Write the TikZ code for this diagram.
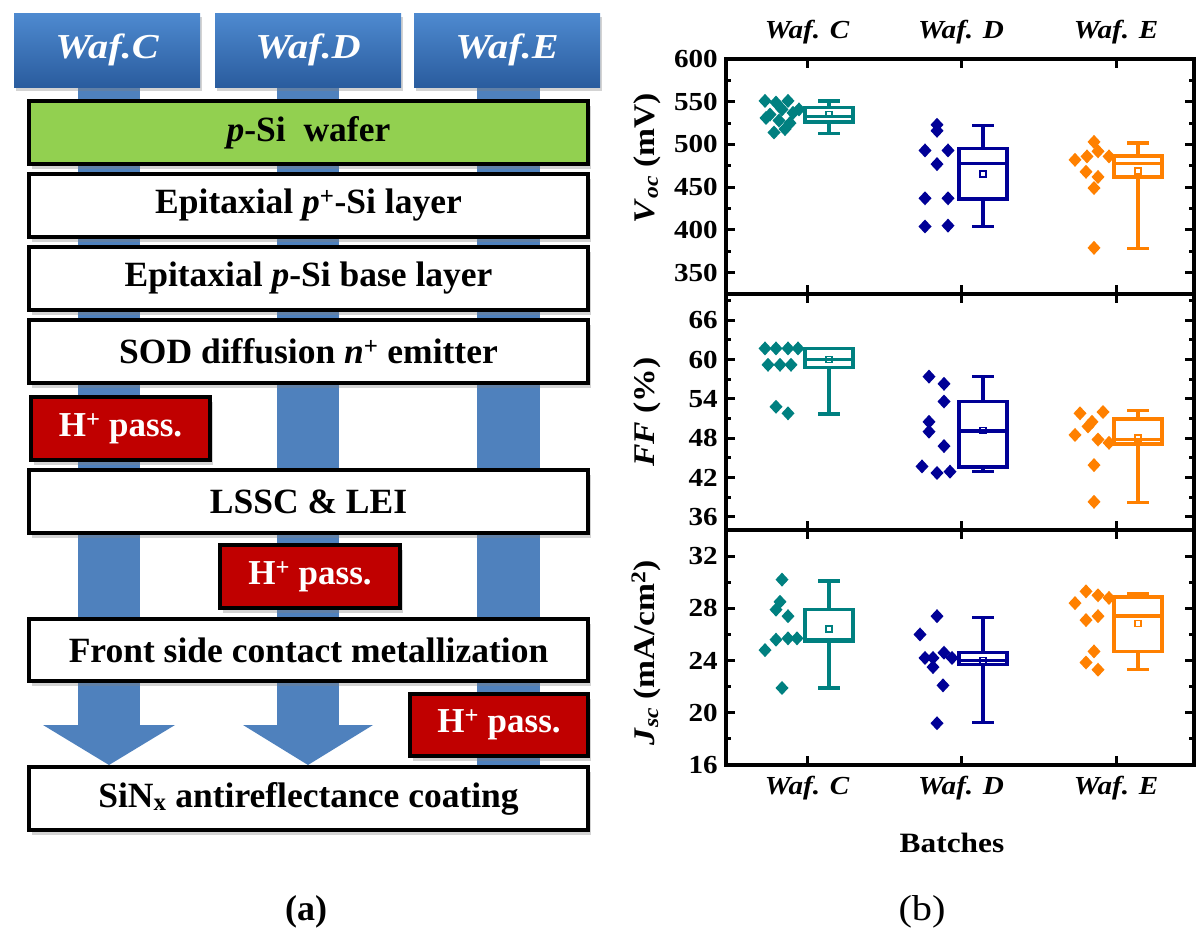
\documentclass[tikz,border=0pt]{standalone}
\usepackage{fontspec}
\setmainfont{Liberation Serif}
\newfontfamily\hdrfont[FakeStretch=1.15]{Liberation Serif}
\newfontfamily\plotfont[FakeStretch=1.12]{Liberation Serif}
\usetikzlibrary{shadows}
\definecolor{hdrtop}{RGB}{78,138,208}
\definecolor{hdrbot}{RGB}{42,92,158}
\definecolor{barblue}{RGB}{79,129,189}
\definecolor{pgreen}{RGB}{146,208,80}
\definecolor{hred}{RGB}{192,0,0}
\definecolor{cteal}{RGB}{0,128,128}
\definecolor{cnavy}{RGB}{0,0,150}
\definecolor{corange}{RGB}{255,128,0}
\newcommand{\fsz}[1]{\fontsize{#1}{#1}\selectfont}
\newcommand{\boxplt}[9]{%
  \draw[#1,bxline] (#2+22,{#3(#4)}) -- (#2+22,{#3(#5)});
  \draw[#1,bxline] (#2+11,{#3(#4)}) -- (#2+33,{#3(#4)});
  \draw[#1,bxline] (#2+22,{#3(#7)}) -- (#2+22,{#3(#8)});
  \draw[#1,bxline] (#2+11,{#3(#8)}) -- (#2+33,{#3(#8)});
  \draw[#1,bxline] (#2-2,{#3(#5)}) rectangle (#2+46,{#3(#7)});
  \draw[#1,bxline] (#2-2,{#3(#6)}) -- (#2+46,{#3(#6)});
  \draw[#1,line width=1.5pt] (#2+19,{#3(#9)-3}) rectangle (#2+25,{#3(#9)+3});
}
\tikzset{
  layer/.style={draw=black, line width=4pt, fill=white, minimum width=559pt,
    minimum height=63pt, inner sep=0pt, outer sep=0pt, anchor=north west,
    font=\fsz{35.5}\bfseries,
    drop shadow={shadow xshift=3pt, shadow yshift=-5pt, opacity=0.35}},
  hbox/.style={layer, fill=hred, text=white, font=\fsz{35}\bfseries},
  hdr/.style={minimum width=186pt, minimum height=74pt, inner sep=0pt,
    outer sep=0pt, anchor=north west, top color=hdrtop, bottom color=hdrbot,
    text=white, font=\hdrfont\fsz{35}\bfseries\itshape,
    drop shadow={shadow xshift=2pt, shadow yshift=-4pt, opacity=0.35}},
  frm/.style={line width=4.5pt, line cap=rect},
  tck/.style={line width=3pt},
  bxline/.style={line width=3.5pt},
  tlab/.style={anchor=east, inner sep=0pt, font=\plotfont\fsz{26}\bfseries},
  clab/.style={inner sep=0pt, font=\plotfont\fsz{26}\bfseries\itshape},
  ylab/.style={rotate=90, inner sep=0pt, font=\plotfont\fsz{30}\bfseries},
  dm/.style={},
  declare function={yA(\v)=59+(600-\v)*0.85455; yB(\v)=294+(70-\v)*6.5556; yC(\v)=530+(34-\v)*13.0556;}
}
\begin{document}
\begin{tikzpicture}[x=1pt,y=-1pt]
\useasboundingbox (0,0) rectangle (1200,943);
% ---------- (a) flow ----------
\fill[barblue] (78,87) rectangle (140,725);
\fill[barblue] (43,725) -- (175,725) -- (109,765) -- cycle;
\fill[barblue] (277,87) rectangle (339,725);
\fill[barblue] (243,725) -- (373,725) -- (308,765) -- cycle;
\fill[barblue] (477,87) rectangle (540,767);
\node[hdr] (hC) at (14,13) {Waf.C};
\node[hdr] (hD) at (215,13) {Waf.D};
\node[hdr] (hE) at (414,13) {Waf.E};
\node[layer, fill=pgreen] (l1) at (29,101) {\textit{p}-Si\ \ wafer};
\node[layer] (l2) at (29,174) {Epitaxial \textit{p}\textsuperscript{+}-Si layer};
\node[layer] (l3) at (29,247) {Epitaxial \textit{p}-Si base layer};
\node[layer] (l4) at (29,320) {SOD diffusion \textit{n}\textsuperscript{+} emitter};
\node[hbox, minimum width=179pt] (h1) at (31,397) {H\textsuperscript{+} pass.};
\node[layer] (l5) at (29,470) {LSSC \& LEI};
\node[hbox, minimum width=180pt] (h2) at (220,545) {H\textsuperscript{+} pass.};
\node[layer, minimum height=62pt] (l6) at (29,619) {Front side contact metallization};
\node[hbox, minimum width=178pt, minimum height=62pt] (h3) at (410,694) {H\textsuperscript{+} pass.};
\node[layer] (l7) at (29,767) {SiN\textsubscript{x} antireflectance coating};
\node[font=\fsz{36}\bfseries] (capa) at (306,912) {(a)};
% ---------- (b) plots ----------
% ticks panel A
\foreach \v in {350,400,...,550} {
  \draw[tck] (726,{yA(\v)}) -- ++(9,0);
  \draw[tck] (1194,{yA(\v)}) -- ++(-9,0);
  \node[tlab] (ta\v) at (718,{yA(\v)}) {\v};
}
\node[tlab] (ta600) at (718,{yA(600)}) {600};
\foreach \v in {375,425,...,575} {
  \draw[tck] (726,{yA(\v)}) -- ++(5,0);
  \draw[tck] (1194,{yA(\v)}) -- ++(-5,0);
}
% ticks panel B
\foreach \v in {36,42,...,66} {
  \draw[tck] (726,{yB(\v)}) -- ++(9,0);
  \draw[tck] (1194,{yB(\v)}) -- ++(-9,0);
  \node[tlab] (tb\v) at (718,{yB(\v)}) {\v};
}
\foreach \v in {39,45,...,69} {
  \draw[tck] (726,{yB(\v)}) -- ++(5,0);
  \draw[tck] (1194,{yB(\v)}) -- ++(-5,0);
}
% ticks panel C
\foreach \v in {16,20,...,32} {
  \draw[tck] (726,{yC(\v)}) -- ++(9,0);
  \draw[tck] (1194,{yC(\v)}) -- ++(-9,0);
  \node[tlab] (tc\v) at (718,{yC(\v)}) {\v};
}
\foreach \v in {18,22,...,30} {
  \draw[tck] (726,{yC(\v)}) -- ++(5,0);
  \draw[tck] (1194,{yC(\v)}) -- ++(-5,0);
}
% category ticks
\foreach \cx in {807,961,1116} {
  \foreach \yy in {59,294,530} {\draw[tck] (\cx,\yy) -- ++(0,9);}
  \foreach \yy in {294,530,765} {\draw[tck] (\cx,\yy) -- ++(0,-9);}
}
% frames
\draw[frm] (726,59) rectangle (1194,765);
\draw[frm] (726,294) -- (1194,294);
\draw[frm] (726,530) -- (1194,530);
% category labels
\node[clab] (tcC) at (807,32) {Waf. C};
\node[clab] (tcD) at (961,32) {Waf. D};
\node[clab] (tcE) at (1116,32) {Waf. E};
\node[clab] (bcC) at (807,788) {Waf. C};
\node[clab] (bcD) at (961,788) {Waf. D};
\node[clab] (bcE) at (1116,788) {Waf. E};
\node[font=\plotfont\fsz{28}\bfseries] (bat) at (952,843) {Batches};
\node[font=\plotfont\fsz{36}] (capb) at (922,912) {(b)};
% axis titles
\node[ylab] (yla) at (647,{yA(484)}) {\textit{V}\textsubscript{\textit{oc}} (mV)};
\node[ylab] (ylb) at (647,{yB(52)}) {\textit{FF} (\%)};
\node[ylab] (ylc) at (646,{yC(24.6)}) {\textit{J}\textsubscript{\textit{sc}} (mA/cm\textsuperscript{2})};
% data panel A
\foreach \px/\v in {765/551,776/549,788/551,799/541,770/535,782/541,793/537,779/528,790/525,774/514,785/518,766/531}
  \fill[cteal] (\px,{yA(\v)}) +(0,-7) -- +(6.5,0) -- +(0,7) -- +(-6.5,0) -- cycle;
\foreach \px/\v in {937/523,937/516,925/493,948/493,937/477,925/437,948/437,925/404,948/405}
  \fill[cnavy] (\px,{yA(\v)}) +(0,-7) -- +(6.5,0) -- +(0,7) -- +(-6.5,0) -- cycle;
\foreach \px/\v in {1094/503,1098/492,1075/482,1087/486,1109/486,1086/468,1098/462,1094/449,1094/379}
  \fill[corange] (\px,{yA(\v)}) +(0,-7) -- +(6.5,0) -- +(0,7) -- +(-6.5,0) -- cycle;
\boxplt{cteal}{807}{yA}{513}{526}{533}{543}{551}{535}
\boxplt{cnavy}{961}{yA}{404}{436}{478}{495}{522}{465.5}
\boxplt{corange}{1116}{yA}{378.5}{462}{478}{486.5}{501.5}{469}
% data panel B
\foreach \px/\v in {765/61.7,776/61.7,788/61.7,798/61.7,768/59.2,780/59.2,791/59.2,776/52.8,788/51.8}
  \fill[cteal] (\px,{yB(\v)}) +(0,-7) -- +(6.5,0) -- +(0,7) -- +(-6.5,0) -- cycle;
\foreach \px/\v in {929/57.4,944/56.3,944/53.6,929/50.5,929/49.0,944/46.8,922/43.7,937/42.7,950/42.9}
  \fill[cnavy] (\px,{yB(\v)}) +(0,-7) -- +(6.5,0) -- +(0,7) -- +(-6.5,0) -- cycle;
\foreach \px/\v in {1080/51.8,1103/52.0,1092/50.5,1088/49.8,1075/48.5,1098/47.8,1109/47.3,1094/43.9,1094/38.3}
  \fill[corange] (\px,{yB(\v)}) +(0,-7) -- +(6.5,0) -- +(0,7) -- +(-6.5,0) -- cycle;
\boxplt{cteal}{807}{yB}{51.7}{58.8}{60}{61.7}{61.7}{60}
\boxplt{cnavy}{961}{yB}{42.9}{43.6}{49.1}{53.6}{57.4}{49.2}
\boxplt{corange}{1116}{yB}{38.2}{47.1}{47.8}{50.9}{52.2}{48}
% data panel C
\foreach \px/\v in {782/30.2,780/28.5,776/27.9,788/27.4,765/24.8,776/25.6,788/25.7,797/25.7,782/21.9}
  \fill[cteal] (\px,{yC(\v)}) +(0,-7) -- +(6.5,0) -- +(0,7) -- +(-6.5,0) -- cycle;
\foreach \px/\v in {937/27.4,920/26.0,925/24.2,933/24.2,944/24.6,952/24.2,933/23.5,943/22.1,937/19.2}
  \fill[cnavy] (\px,{yC(\v)}) +(0,-7) -- +(6.5,0) -- +(0,7) -- +(-6.5,0) -- cycle;
\foreach \px/\v in {1086/29.3,1098/29.0,1075/28.4,1109/28.8,1086/27.1,1098/27.4,1094/24.7,1086/23.85,1098/23.3}
  \fill[corange] (\px,{yC(\v)}) +(0,-7) -- +(6.5,0) -- +(0,7) -- +(-6.5,0) -- cycle;
\boxplt{cteal}{807}{yC}{21.9}{25.45}{25.6}{27.9}{30.1}{26.4}
\boxplt{cnavy}{961}{yC}{19.25}{23.7}{24.0}{24.6}{27.3}{24}
\boxplt{corange}{1116}{yC}{23.3}{24.7}{27.4}{28.85}{29.1}{26.85}
\end{tikzpicture}
\end{document}
